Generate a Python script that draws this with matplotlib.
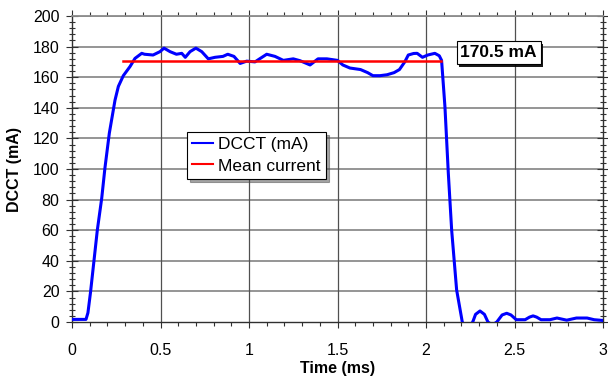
import matplotlib
matplotlib.use("Agg")
import matplotlib.pyplot as plt
import matplotlib.patheffects as pe
from matplotlib.ticker import MultipleLocator

plt.rcParams['font.family'] = ['Liberation Sans', 'DejaVu Sans']

time_ms = [0.00, 0.05, 0.079, 0.09, 0.105, 0.143, 0.168, 0.186, 0.211, 0.243,
           0.262, 0.29, 0.328, 0.356, 0.394, 0.41, 0.458, 0.497, 0.52, 0.554,
           0.59, 0.62, 0.64, 0.667, 0.70, 0.733, 0.77, 0.808, 0.853, 0.88,
           0.915, 0.95, 0.987, 1.034, 1.06, 1.10, 1.147, 1.194, 1.25, 1.288,
           1.345, 1.39, 1.44, 1.50, 1.53, 1.57, 1.63, 1.67, 1.70, 1.74,
           1.78, 1.82, 1.85, 1.88, 1.90, 1.93, 1.95, 1.98, 2.01, 2.05,
           2.075, 2.088, 2.107, 2.126, 2.145, 2.173, 2.205, 2.23, 2.264, 2.28,
           2.305, 2.33, 2.35, 2.375, 2.40, 2.43, 2.456, 2.48, 2.51, 2.56,
           2.585, 2.605, 2.625, 2.65, 2.70, 2.74, 2.795, 2.85, 2.91, 2.95,
           3.00]
dcct_ma = [1.7, 1.7, 1.7, 6, 19.8, 60, 81, 100.6, 123.5, 145,
           154, 161, 167, 172.3, 175.6, 175, 174.5, 176.7, 179, 176.7,
           175, 175.6, 173, 176.7, 179, 176.7, 172, 173, 173.6, 175,
           173.6, 169, 170.5, 170, 172, 175, 173.6, 171, 172, 170.8,
           168, 172, 172, 171, 168, 166, 165, 163, 161, 161,
           161.6, 163, 165, 170, 174.5, 175.5, 175.6, 173, 174.5, 175.6,
           174, 171, 140.7, 97.4, 60, 21, 0, -5, 0, 5,
           7.2, 5, 0, -2, 0, 4.6, 5.7, 4.6, 1.5, 1.5,
           3.2, 4, 3.2, 1.5, 1.5, 2.6, 1.2, 2.6, 2.6, 1.5,
           1]

mean_time = [0.288, 2.085]
mean_value = 170.5
mean_label = "170.5 mA"

x_ticks = [0, 0.5, 1, 1.5, 2, 2.5, 3]
x_tick_labels = ["0", "0.5", "1", "1.5", "2", "2.5", "3"]
y_ticks = list(range(0, 201, 20))

fig = plt.figure(figsize=(6.08, 3.78), dpi=100)
ax = fig.add_axes([72/608, 56/378, 531/608, 306/378])

ax.plot(time_ms, dcct_ma, color='#0000ff', lw=2.2, label='DCCT (mA)', zorder=3,
        solid_joinstyle='round')
ax.plot(mean_time, [mean_value, mean_value], color='#ff0000', lw=1.8,
        label='Mean current', zorder=4)

ax.set_xlim(0, 3)
ax.set_ylim(0, 200)
ax.set_xticks(x_ticks)
ax.set_xticklabels(x_tick_labels)
ax.set_yticks(y_ticks)
ax.xaxis.set_minor_locator(MultipleLocator(0.1))
ax.yaxis.set_minor_locator(MultipleLocator(4))

for y in y_ticks[1:]:
    ax.axhline(y, color='#8c8c8c', lw=1.3, zorder=1)
for x in x_ticks[1:-1]:
    ax.axvline(x, color='#505050', lw=0.9, zorder=1)

for s in ['left', 'bottom', 'right']:
    ax.spines[s].set_color('#303030')
    ax.spines[s].set_linewidth(1.0)
ax.spines['top'].set_color('#8c8c8c')
ax.spines['top'].set_linewidth(1.3)

ax.tick_params(axis='x', which='major', direction='out', length=4, width=0.8,
               top=True, labelsize=11.5, pad=11, colors='#303030', labelcolor='black')
ax.tick_params(axis='x', which='minor', direction='out', length=3, width=0.8,
               top=True, colors='#303030')
ax.tick_params(axis='y', which='major', direction='inout', length=8, width=0.8,
               right=True, labelsize=11.5, pad=5, colors='#303030', labelcolor='black')
ax.tick_params(axis='y', which='minor', direction='inout', length=5, width=0.8,
               right=True, colors='#303030')

ax.set_xlabel('Time (ms)', fontsize=11.5, fontweight='bold', labelpad=2)
ax.set_ylabel('DCCT (mA)', fontsize=11.5, fontweight='bold', labelpad=8)

leg = ax.legend(loc='upper left', bbox_to_anchor=(0.2166, 0.621), borderaxespad=0,
                fontsize=12.5, frameon=True, fancybox=False, shadow=True,
                handlelength=1.2, handletextpad=0.3, labelspacing=0.35,
                borderpad=0.3)
leg.get_frame().set_edgecolor('black')
leg.get_frame().set_linewidth(0.8)
for line in leg.get_lines():
    line.set_linewidth(1.5)

t = ax.text(2.41, 176.1, mean_label, fontsize=12.5, fontweight='bold',
            ha='center', va='center', zorder=6,
            bbox=dict(boxstyle='square,pad=0.22', facecolor='white',
                      edgecolor='black', linewidth=0.8))
t.get_bbox_patch().set_path_effects([
    pe.SimplePatchShadow(offset=(2, -2), shadow_rgbFace='black', alpha=0.9),
    pe.Normal()])

fig.savefig('out.png', dpi=100, facecolor='white')
